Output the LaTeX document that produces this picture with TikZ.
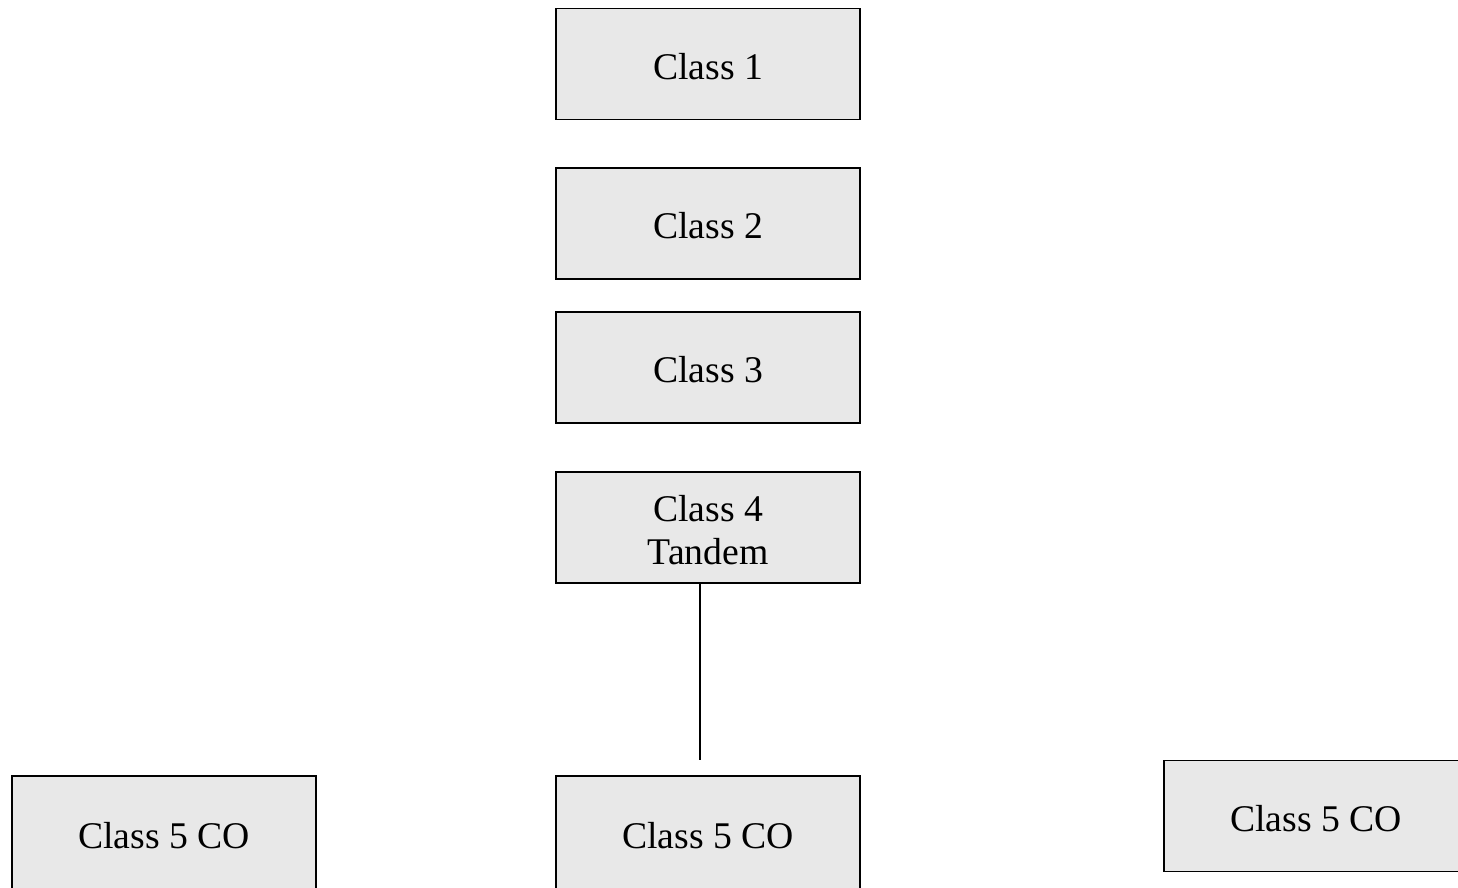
\documentclass[tikz,border=0pt]{standalone}
\usepackage{fontspec}
\setmainfont{Liberation Serif}
\begin{document}
\begin{tikzpicture}[x=1pt,y=-1pt,
  classbox/.style={draw=black, fill=boxgray, line width=1.6pt,
    minimum width=304pt, minimum height=111pt, inner sep=0pt,
    text height=31pt, align=center,
    font=\fontsize{37.7}{43}\selectfont},
  twoline/.style={text height=75pt},
  link/.style={draw=black, line width=1.6pt}]
\definecolor{boxgray}{HTML}{E8E8E8}
\path[use as bounding box] (0,0) rectangle (1458,887);
\clip (0,0) rectangle (1458,887);

% switching hierarchy
\node[classbox] (c1) at (708,64)    {Class 1};
\node[classbox] (c2) at (708,223.5) {Class 2};
\node[classbox] (c3) at (708,367.5) {Class 3};
\node[classbox, twoline] (c4) at (708,527.5) {Class 4\\Tandem};

% end offices
\node[classbox, minimum height=114pt] (c5a) at (164,833)  {Class 5 CO};
\node[classbox, minimum height=114pt] (c5b) at (708,833)  {Class 5 CO};
\node[classbox] (c5c) at (1316,816) {Class 5 CO};

% trunk from the tandem
\coordinate (trunkend) at (700,760);
\draw[link] (c4.south -| trunkend) -- (trunkend);
\end{tikzpicture}
\end{document}
